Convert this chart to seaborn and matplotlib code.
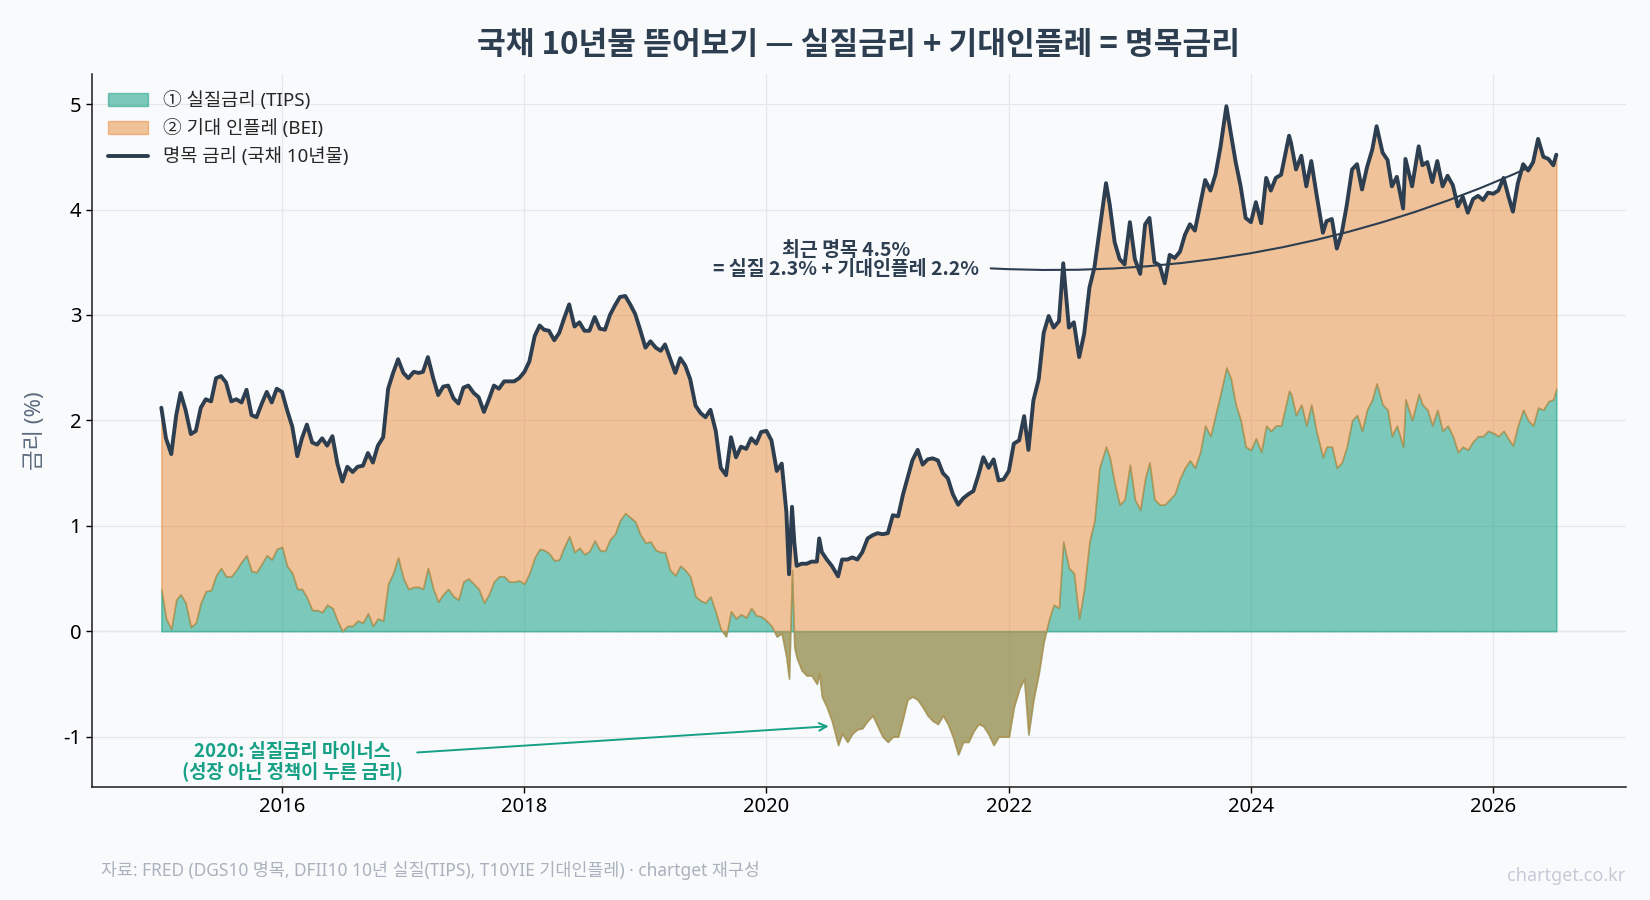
import pandas as pd
import matplotlib
matplotlib.use("Agg")
import matplotlib.pyplot as plt
import matplotlib.dates as mdates
from matplotlib.patches import Patch
from matplotlib.lines import Line2D
import seaborn as sns


# Sample days (semi-monthly, with a few extra days around the big moves)
days_2015 = ["01-02", "01-16", "02-01", "02-16", "03-01", "03-16", "04-01", "04-16", "05-01", "05-16", "06-01", "06-16",
             "07-01", "07-16", "08-01", "08-16", "09-01", "09-16", "10-01", "10-16", "11-01", "11-16", "12-01", "12-16"]
days_std = ["01-01", "01-16", "02-01", "02-16", "03-01", "03-16", "04-01", "04-16", "05-01", "05-16", "06-01", "06-16",
            "07-01", "07-16", "08-01", "08-16", "09-01", "09-16", "10-01", "10-16", "11-01", "11-16", "12-01", "12-16"]
days_2020 = ["01-01", "01-16", "02-01", "02-16", "03-01", "03-09", "03-18", "03-25", "04-01", "04-16", "05-01", "05-16",
             "06-01", "06-08", "06-16", "07-01", "07-16", "08-04", "08-16", "09-01", "09-16", "10-01", "10-16", "11-01",
             "11-16", "12-01", "12-16"]
days_2022 = ["01-01", "01-16", "02-01", "02-16", "03-01", "03-16", "04-01", "04-16", "05-01", "05-16", "06-01", "06-14",
             "07-01", "07-16", "08-01", "08-16", "09-01", "09-16", "10-01", "10-21", "11-01", "11-16", "12-01", "12-16"]
days_2023 = ["01-01", "01-16", "02-01", "02-16", "03-01", "03-16", "04-01", "04-16", "05-01", "05-16", "06-01", "06-16",
             "07-01", "07-16", "08-01", "08-16", "09-01", "09-16", "10-01", "10-19", "11-01", "11-16", "12-01", "12-16"]
days_2024 = ["01-01", "01-16", "02-01", "02-16", "03-01", "03-16", "04-01", "04-25", "05-01", "05-16", "06-01", "06-16",
             "07-01", "07-16", "08-05", "08-16", "09-01", "09-16", "10-01", "10-16", "11-01", "11-16", "12-01", "12-16"]
days_2025 = ["01-01", "01-14", "02-01", "02-16", "03-01", "03-16", "04-04", "04-11", "05-01", "05-21", "06-01", "06-16",
             "07-01", "07-16", "08-01", "08-16", "09-01", "09-16", "10-01", "10-16", "11-01", "11-16", "12-01", "12-16"]
days_2026 = ["01-01", "01-16", "02-01", "02-16", "03-01", "03-16", "04-01", "04-16", "05-01", "05-16", "06-01", "06-16",
             "07-01", "07-10"]

year_days = [(2015, days_2015), (2016, days_std), (2017, days_std), (2018, days_std), (2019, days_std),
             (2020, days_2020), (2021, days_std), (2022, days_2022), (2023, days_2023), (2024, days_2024),
             (2025, days_2025), (2026, days_2026)]
dates = [f"{y}-{d}" for y, ds in year_days for d in ds]

# DGS10 nominal 10y yield (%)
nominal = [
    2.12, 1.83, 1.68, 2.05, 2.26, 2.10, 1.87, 1.90, 2.12, 2.20, 2.18, 2.40, 2.42, 2.36, 2.18, 2.20, 2.17, 2.29, 2.05, 2.03, 2.16, 2.27, 2.17, 2.30,  # 2015
    2.27, 2.10, 1.94, 1.66, 1.83, 1.96, 1.79, 1.77, 1.83, 1.76, 1.85, 1.59, 1.42, 1.56, 1.51, 1.56, 1.57, 1.69, 1.60, 1.76, 1.84, 2.30, 2.45, 2.58,  # 2016
    2.45, 2.40, 2.46, 2.45, 2.46, 2.60, 2.40, 2.24, 2.32, 2.33, 2.21, 2.16, 2.31, 2.33, 2.26, 2.22, 2.08, 2.20, 2.33, 2.30, 2.37, 2.37, 2.37, 2.40,  # 2017
    2.46, 2.56, 2.80, 2.90, 2.86, 2.85, 2.76, 2.83, 2.97, 3.10, 2.89, 2.93, 2.85, 2.85, 2.98, 2.87, 2.86, 3.00, 3.09, 3.17, 3.18, 3.10, 3.01, 2.86,  # 2018
    2.69, 2.75, 2.69, 2.66, 2.72, 2.59, 2.45, 2.59, 2.52, 2.39, 2.14, 2.07, 2.03, 2.10, 1.90, 1.55, 1.48, 1.84, 1.65, 1.75, 1.73, 1.83, 1.78, 1.89,  # 2019
    1.90, 1.81, 1.52, 1.59, 1.13, 0.54, 1.18, 0.84, 0.62, 0.64, 0.64, 0.66, 0.66, 0.88, 0.75, 0.68, 0.62, 0.52, 0.68, 0.68,
    0.70, 0.68, 0.75, 0.88, 0.91, 0.93, 0.92,  # 2020
    0.93, 1.10, 1.09, 1.30, 1.45, 1.62, 1.72, 1.58, 1.63, 1.64, 1.62, 1.50, 1.45, 1.30, 1.20, 1.26, 1.30, 1.33, 1.48, 1.65, 1.55, 1.63, 1.43, 1.44,  # 2021
    1.52, 1.78, 1.81, 2.04, 1.72, 2.19, 2.39, 2.83, 2.99, 2.88, 2.94, 3.49, 2.88, 2.93, 2.60, 2.82, 3.26, 3.45, 3.79, 4.25, 4.05, 3.69, 3.53, 3.48,  # 2022
    3.88, 3.53, 3.39, 3.86, 3.92, 3.50, 3.47, 3.30, 3.57, 3.54, 3.60, 3.76, 3.86, 3.80, 4.05, 4.28, 4.18, 4.33, 4.59, 4.98, 4.73, 4.45, 4.22, 3.92,  # 2023
    3.88, 4.07, 3.87, 4.30, 4.18, 4.30, 4.33, 4.70, 4.63, 4.38, 4.51, 4.22, 4.46, 4.16, 3.78, 3.89, 3.91, 3.63, 3.78, 4.04, 4.38, 4.43, 4.19, 4.40,  # 2024
    4.57, 4.79, 4.54, 4.47, 4.22, 4.31, 4.01, 4.48, 4.22, 4.60, 4.42, 4.45, 4.26, 4.46, 4.22, 4.32, 4.23, 4.03, 4.12, 3.97, 4.10, 4.13, 4.09, 4.16,  # 2025
    4.15, 4.18, 4.30, 4.12, 3.98, 4.25, 4.43, 4.37, 4.45, 4.67, 4.50, 4.48, 4.42, 4.52,  # 2026
]

# DFII10 real 10y yield, TIPS (%)
real = [
    0.40, 0.12, 0.02, 0.30, 0.35, 0.27, 0.04, 0.08, 0.27, 0.38, 0.39, 0.53, 0.60, 0.52, 0.52, 0.58, 0.66, 0.72, 0.57, 0.56, 0.64, 0.72, 0.68, 0.78,  # 2015
    0.80, 0.62, 0.55, 0.40, 0.40, 0.32, 0.20, 0.20, 0.18, 0.25, 0.22, 0.10, 0.00, 0.05, 0.05, 0.10, 0.08, 0.17, 0.05, 0.12, 0.10, 0.45, 0.55, 0.70,  # 2016
    0.50, 0.40, 0.42, 0.42, 0.40, 0.60, 0.40, 0.28, 0.35, 0.40, 0.33, 0.30, 0.47, 0.50, 0.45, 0.40, 0.27, 0.35, 0.47, 0.52, 0.52, 0.47, 0.47, 0.48,  # 2017
    0.45, 0.55, 0.70, 0.78, 0.77, 0.74, 0.67, 0.68, 0.80, 0.90, 0.75, 0.79, 0.73, 0.76, 0.86, 0.77, 0.76, 0.87, 0.92, 1.05, 1.12, 1.08, 1.04, 0.92,  # 2018
    0.84, 0.85, 0.77, 0.75, 0.75, 0.58, 0.53, 0.62, 0.58, 0.52, 0.33, 0.29, 0.27, 0.33, 0.18, 0.02, -0.05, 0.19, 0.12, 0.16, 0.13, 0.22, 0.15, 0.14,  # 2019
    0.10, 0.05, -0.05, -0.02, -0.25, -0.45, 0.58, -0.15, -0.25, -0.37, -0.42, -0.42, -0.50, -0.40, -0.62, -0.72, -0.85, -1.08, -0.97, -1.05,
    -0.97, -0.93, -0.92, -0.85, -0.80, -0.90, -1.00,  # 2020
    -1.05, -1.00, -1.00, -0.82, -0.65, -0.62, -0.65, -0.72, -0.80, -0.85, -0.88, -0.80, -0.88, -1.00, -1.17, -1.05, -1.05, -0.95, -0.88, -0.90, -0.98, -1.08, -1.00, -1.00,  # 2021
    -1.00, -0.72, -0.55, -0.45, -0.98, -0.65, -0.40, -0.10, 0.10, 0.25, 0.22, 0.85, 0.60, 0.55, 0.12, 0.40, 0.85, 1.05, 1.55, 1.75, 1.65, 1.40, 1.20, 1.25,  # 2022
    1.58, 1.25, 1.15, 1.45, 1.60, 1.25, 1.20, 1.20, 1.25, 1.30, 1.45, 1.55, 1.62, 1.55, 1.70, 1.95, 1.85, 2.05, 2.25, 2.50, 2.40, 2.15, 2.00, 1.75,  # 2023
    1.72, 1.83, 1.70, 1.95, 1.90, 1.95, 1.95, 2.28, 2.25, 2.05, 2.15, 1.95, 2.15, 1.90, 1.65, 1.75, 1.75, 1.55, 1.60, 1.75, 2.00, 2.05, 1.90, 2.10,  # 2024
    2.20, 2.35, 2.15, 2.10, 1.85, 1.95, 1.75, 2.20, 2.00, 2.25, 2.15, 2.10, 1.95, 2.10, 1.90, 1.95, 1.85, 1.70, 1.75, 1.72, 1.80, 1.85, 1.85, 1.90,  # 2025
    1.88, 1.85, 1.90, 1.82, 1.76, 1.95, 2.10, 2.00, 1.95, 2.12, 2.10, 2.18, 2.20, 2.30,  # 2026
]

TEAL = "#16a085"
ORANGE = "#e67e22"
NAVY = "#2c3e50"
BG = "#f9fafc"
KR = ["Noto Sans CJK KR", "DejaVu Sans"]

df = pd.DataFrame({"date": pd.to_datetime(dates), "nominal": nominal, "real": real})
df["bei"] = df["nominal"] - df["real"]

sns.set_theme(style="whitegrid")
# latin glyphs from Noto Sans, hangul falls back to the CJK face
plt.rcParams["font.family"] = ["Noto Sans", "Noto Sans CJK KR", "DejaVu Sans"]
plt.rcParams["axes.unicode_minus"] = False

fig, ax = plt.subplots(figsize=(16.5, 9), dpi=100)
fig.subplots_adjust(left=0.0555, right=0.9855, top=0.918, bottom=0.1256)
fig.patch.set_facecolor(BG)
ax.set_facecolor(BG)

ax.axhline(0, color="#999999", lw=0.9, ls=":", zorder=0.5)

# stacked areas: real rate from 0, breakeven on top of it
ax.fill_between(df["date"], 0, df["real"], facecolor=TEAL, edgecolor=TEAL, alpha=0.55, lw=1.2, zorder=2)
ax.fill_between(df["date"], df["real"], df["nominal"], facecolor=ORANGE, edgecolor=ORANGE, alpha=0.45, lw=1.2, zorder=3)
sns.lineplot(data=df, x="date", y="nominal", color=NAVY, lw=2.8, ax=ax, zorder=4)

handles = [
    Patch(facecolor=TEAL, edgecolor=TEAL, alpha=0.55, label="① 실질금리 (TIPS)"),
    Patch(facecolor=ORANGE, edgecolor=ORANGE, alpha=0.45, label="② 기대 인플레 (BEI)"),
    Line2D([], [], color=NAVY, lw=2.8, label="명목 금리 (국채 10년물)"),
]
ax.legend(handles=handles, loc="upper left", frameon=False, fontsize=13.5, labelspacing=0.5,
          handlelength=2.1)

ax.set_title("국채 10년물 뜯어보기 — 실질금리 + 기대인플레 = 명목금리", family=KR,
             fontsize=22.5, fontweight="bold", color=NAVY, pad=14)
ax.set_xlabel("")
ax.set_ylabel("금리 (%)", fontsize=16, color="#5d6d7e", labelpad=12)

ax.xaxis.set_major_locator(mdates.YearLocator(2))
ax.xaxis.set_major_formatter(mdates.DateFormatter("%Y"))
ax.tick_params(axis="both", labelsize=14.5, colors="black", length=4, width=1, left=True, bottom=True)
ax.grid(color="#e6e7eb", lw=0.9)
sns.despine(ax=ax)
for s in ["left", "bottom"]:
    ax.spines[s].set_color("#1a1a1a")
    ax.spines[s].set_linewidth(1.1)

# annotations
last = df.iloc[-1]
note = f"최근 명목 {last['nominal']:.1f}%\n= 실질 {last['real']:.1f}% + 기대인플레 {last['bei']:.1f}%"
ax.annotate(note, xy=(last["date"], last["nominal"]), xytext=(pd.Timestamp("2020-08-28"), 3.52),
            ha="center", va="center", family=KR, fontsize=14, fontweight="bold", color=NAVY, zorder=6,
            linespacing=1.0,
            arrowprops=dict(arrowstyle="-", color=NAVY, lw=1.5, shrinkA=6, shrinkB=22,
                            connectionstyle="arc3,rad=0.13", relpos=(1.0, 0.3)))

ax.annotate("2020: 실질금리 마이너스\n(성장 아닌 정책이 누른 금리)",
            xy=(pd.Timestamp("2020-07-15"), -0.9), xytext=(pd.Timestamp("2016-02-01"), -1.24),
            ha="center", va="center", family=KR, fontsize=13.5, fontweight="bold", color=TEAL, zorder=6,
            linespacing=1.0,
            arrowprops=dict(arrowstyle="->", color=TEAL, lw=1.4, shrinkA=8, shrinkB=2, relpos=(1.0, 0.72)))

fig.text(0.061, 0.033, "자료: FRED (DGS10 명목, DFII10 10년 실질(TIPS), T10YIE 기대인플레) · chartget 재구성",
         fontsize=12.5, color="#aab2bd", ha="left", va="center")
fig.text(0.985, 0.027, "chartget.co.kr", fontsize=13, color="#c5cad6", ha="right", va="center")

fig.savefig("out.png", dpi=100, facecolor=BG)
